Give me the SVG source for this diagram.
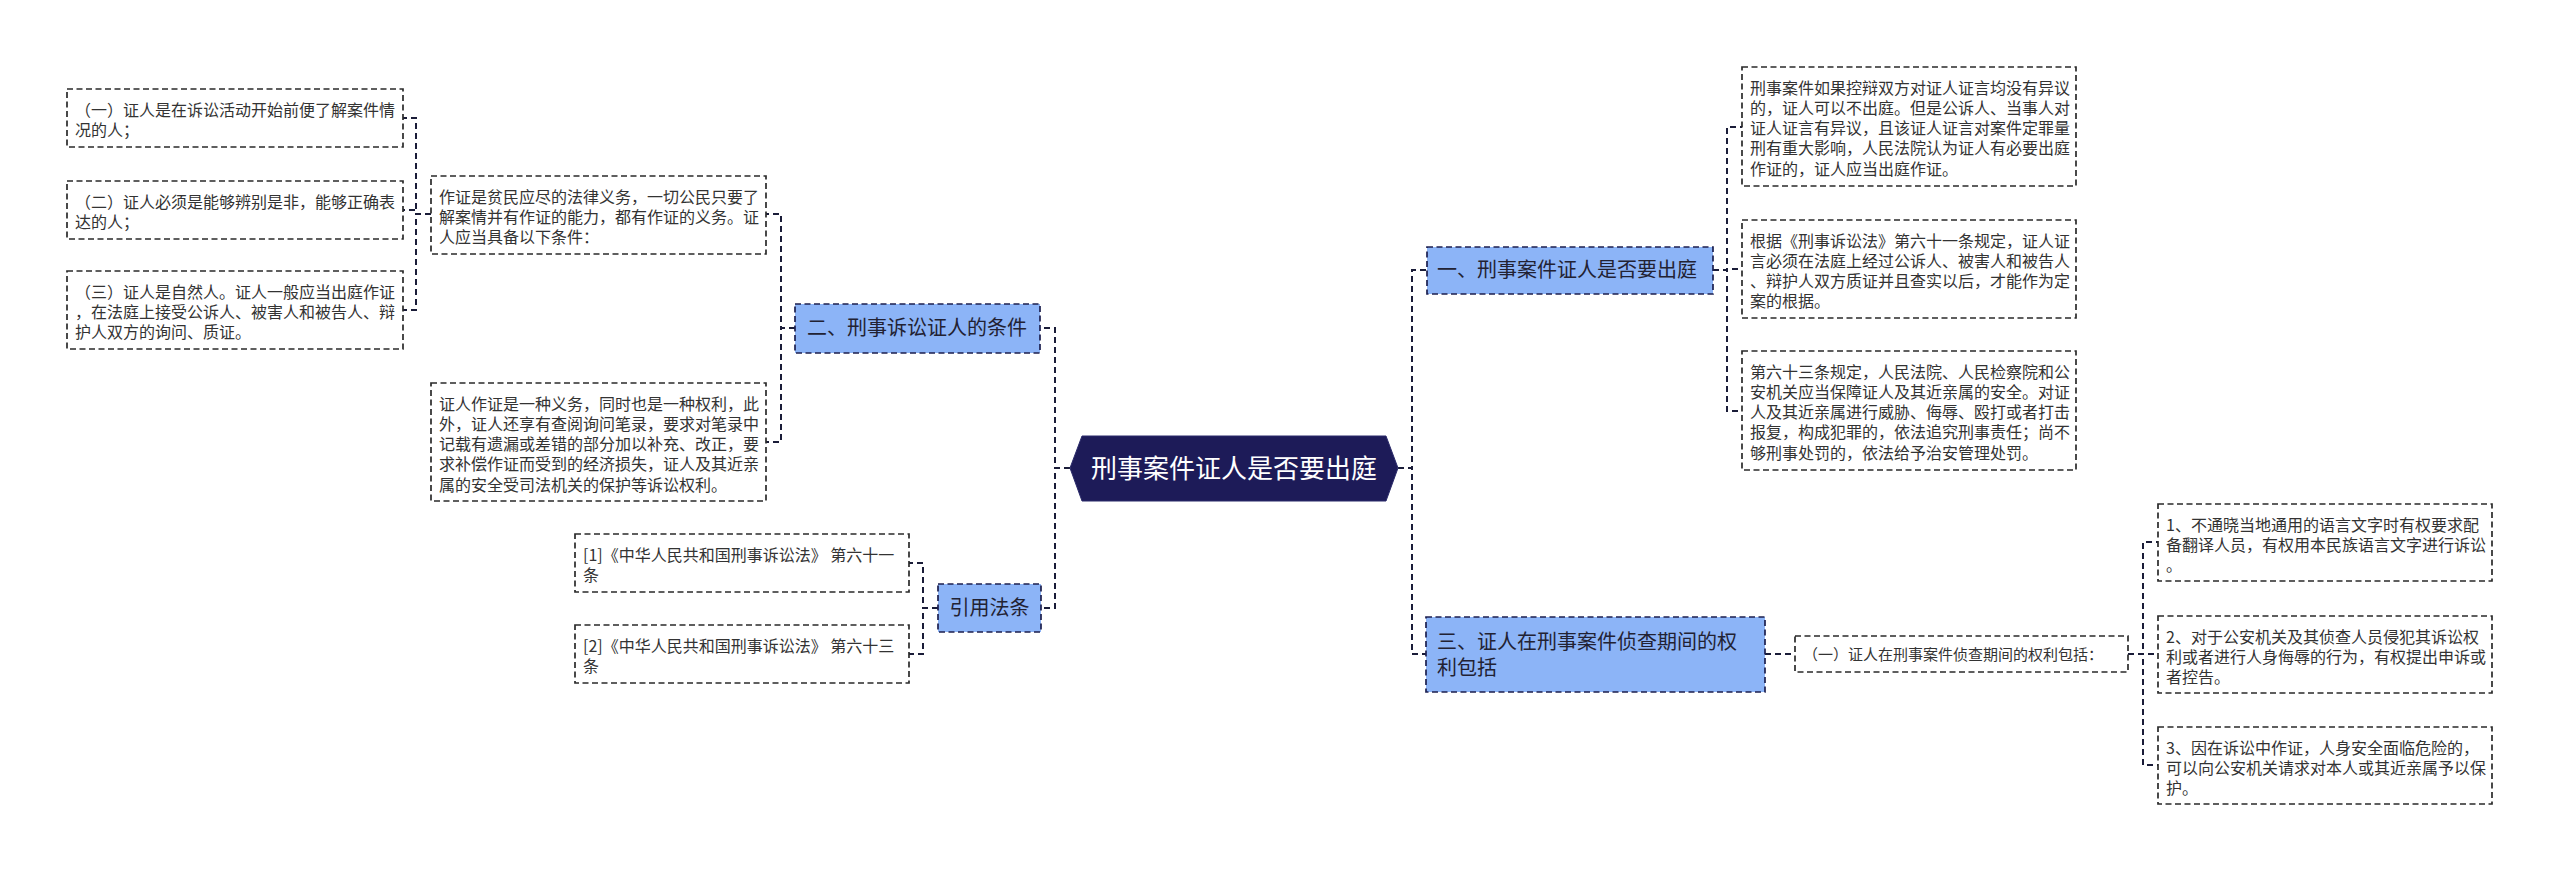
<svg xmlns="http://www.w3.org/2000/svg" width="2560" height="872" viewBox="0 0 2560 872">
<style>
.box{fill:#ffffff;stroke:#2a2a2a;stroke-width:1.7;stroke-dasharray:6,3.5}
.blue{fill:#8cb4f7;stroke:#1c1f4f;stroke-width:1.7;stroke-dasharray:6,3.5}
.t{font-family:"Noto Sans CJK SC","Liberation Sans",sans-serif;font-size:16px;fill:#333333}
.ts{font-family:"Noto Sans CJK SC","Liberation Sans",sans-serif;font-size:15px;fill:#333333}
.tb{font-family:"Noto Sans CJK SC","Liberation Sans",sans-serif;font-size:20px;fill:#222233}
.th{font-family:"Noto Sans CJK SC","Liberation Sans",sans-serif;font-size:26px;fill:#ffffff}
.c{fill:none;stroke:#1a1c38;stroke-width:2;stroke-dasharray:6,4}
</style>
<rect width="2560" height="872" fill="#ffffff"/>
<g id="connectors">
<path class="c" d="M1070,468 H1055 V328 H1040"/>
<path class="c" d="M1070,468 H1055 V608 H1041"/>
<path class="c" d="M795,328 H781 V214 H766"/>
<path class="c" d="M795,328 H781 V442 H766"/>
<path class="c" d="M431,214 H416 V118 H403"/>
<path class="c" d="M431,214 H416 V210 H403"/>
<path class="c" d="M431,214 H416 V310 H403"/>
<path class="c" d="M938,608 H923 V563 H909"/>
<path class="c" d="M938,608 H923 V654 H909"/>
<path class="c" d="M1398,468 H1412 V270 H1427"/>
<path class="c" d="M1398,468 H1412 V654 H1426"/>
<path class="c" d="M1713,270 H1727 V127 H1742"/>
<path class="c" d="M1713,270 H1727 V269 H1742"/>
<path class="c" d="M1713,270 H1727 V411 H1742"/>
<path class="c" d="M1765,654 H1795"/>
<path class="c" d="M2128,654 H2143 V542 H2158"/>
<path class="c" d="M2128,654 H2143 V654 H2158"/>
<path class="c" d="M2128,654 H2143 V765 H2158"/>
</g>
<g id="root">
<polygon points="1070,468 1082,436 1386,436 1398,468 1386,501 1082,501" fill="#1d1b58" stroke="#2a2a6a" stroke-width="1"/>
<text class="th" x="1234" y="478" text-anchor="middle">刑事案件证人是否要出庭</text>
</g>
<g id="n-er">
<rect class="blue" x="795" y="304" width="245" height="49"/>
<text class="tb" x="807" y="335">二、刑事诉讼证人的条件</text>
</g>
<g id="n-er-p1">
<rect class="box" x="431" y="176" width="335" height="78"/>
<text class="t"><tspan x="439" y="202.5">作证是贫民应尽的法律义务，一切公民只要了</tspan><tspan x="439" y="222.8">解案情并有作证的能力，都有作证的义务。证</tspan><tspan x="439" y="243.1">人应当具备以下条件：</tspan></text>
</g>
<g id="n-er-p2">
<rect class="box" x="431" y="383" width="335" height="118"/>
<text class="t"><tspan x="439" y="409.5">证人作证是一种义务，同时也是一种权利，此</tspan><tspan x="439" y="429.8">外，证人还享有查阅询问笔录，要求对笔录中</tspan><tspan x="439" y="450.1">记载有遗漏或差错的部分加以补充、改正，要</tspan><tspan x="439" y="470.4">求补偿作证而受到的经济损失，证人及其近亲</tspan><tspan x="439" y="490.7">属的安全受司法机关的保护等诉讼权利。</tspan></text>
</g>
<g id="n-c1">
<rect class="box" x="67" y="89" width="336" height="58"/>
<text class="t"><tspan x="75" y="115.5">（一）证人是在诉讼活动开始前便了解案件情</tspan><tspan x="75" y="135.8">况的人；</tspan></text>
</g>
<g id="n-c2">
<rect class="box" x="67" y="181" width="336" height="58"/>
<text class="t"><tspan x="75" y="207.5">（二）证人必须是能够辨别是非，能够正确表</tspan><tspan x="75" y="227.8">达的人；</tspan></text>
</g>
<g id="n-c3">
<rect class="box" x="67" y="271" width="336" height="78"/>
<text class="t"><tspan x="75" y="297.5">（三）证人是自然人。证人一般应当出庭作证</tspan><tspan x="75" y="317.8">，在法庭上接受公诉人、被害人和被告人、辩</tspan><tspan x="75" y="338.1">护人双方的询问、质证。</tspan></text>
</g>
<g id="n-law">
<rect class="blue" x="938" y="584" width="103" height="48"/>
<text class="tb" x="989.5" y="615" text-anchor="middle">引用法条</text>
</g>
<g id="n-law1">
<rect class="box" x="575" y="534" width="334" height="58"/>
<text class="t"><tspan x="583" y="560.5">[1]《中华人民共和国刑事诉讼法》 第六十一</tspan><tspan x="583" y="580.8">条</tspan></text>
</g>
<g id="n-law2">
<rect class="box" x="575" y="625" width="334" height="58"/>
<text class="t"><tspan x="583" y="651.5">[2]《中华人民共和国刑事诉讼法》 第六十三</tspan><tspan x="583" y="671.8">条</tspan></text>
</g>
<g id="n-yi">
<rect class="blue" x="1427" y="247" width="286" height="47"/>
<text class="tb" x="1437" y="277">一、刑事案件证人是否要出庭</text>
</g>
<g id="n-yi-a">
<rect class="box" x="1742" y="67" width="334" height="119"/>
<text class="t"><tspan x="1750" y="93.5">刑事案件如果控辩双方对证人证言均没有异议</tspan><tspan x="1750" y="113.8">的，证人可以不出庭。但是公诉人、当事人对</tspan><tspan x="1750" y="134.1">证人证言有异议，且该证人证言对案件定罪量</tspan><tspan x="1750" y="154.4">刑有重大影响，人民法院认为证人有必要出庭</tspan><tspan x="1750" y="174.7">作证的，证人应当出庭作证。</tspan></text>
</g>
<g id="n-yi-b">
<rect class="box" x="1742" y="220" width="334" height="98"/>
<text class="t"><tspan x="1750" y="246.5">根据《刑事诉讼法》第六十一条规定，证人证</tspan><tspan x="1750" y="266.8">言必须在法庭上经过公诉人、被害人和被告人</tspan><tspan x="1750" y="287.1">、辩护人双方质证并且查实以后，才能作为定</tspan><tspan x="1750" y="307.4">案的根据。</tspan></text>
</g>
<g id="n-yi-c">
<rect class="box" x="1742" y="351" width="334" height="119"/>
<text class="t"><tspan x="1750" y="377.5">第六十三条规定，人民法院、人民检察院和公</tspan><tspan x="1750" y="397.8">安机关应当保障证人及其近亲属的安全。对证</tspan><tspan x="1750" y="418.1">人及其近亲属进行威胁、侮辱、殴打或者打击</tspan><tspan x="1750" y="438.4">报复，构成犯罪的，依法追究刑事责任；尚不</tspan><tspan x="1750" y="458.7">够刑事处罚的，依法给予治安管理处罚。</tspan></text>
</g>
<g id="n-san">
<rect class="blue" x="1426" y="617" width="339" height="75"/>
<text class="tb"><tspan x="1437" y="649">三、证人在刑事案件侦查期间的权</tspan><tspan x="1437" y="675">利包括</tspan></text>
</g>
<g id="n-san-1">
<rect class="box" x="1795" y="636" width="333" height="36"/>
<text class="ts" x="1803" y="660">（一）证人在刑事案件侦查期间的权利包括：</text>
</g>
<g id="n-r1">
<rect class="box" x="2158" y="504" width="334" height="77"/>
<text class="t"><tspan x="2166" y="530.5">1、不通晓当地通用的语言文字时有权要求配</tspan><tspan x="2166" y="550.8">备翻译人员，有权用本民族语言文字进行诉讼</tspan><tspan x="2166" y="571.1">。</tspan></text>
</g>
<g id="n-r2">
<rect class="box" x="2158" y="616" width="334" height="77"/>
<text class="t"><tspan x="2166" y="642.5">2、对于公安机关及其侦查人员侵犯其诉讼权</tspan><tspan x="2166" y="662.8">利或者进行人身侮辱的行为，有权提出申诉或</tspan><tspan x="2166" y="683.1">者控告。</tspan></text>
</g>
<g id="n-r3">
<rect class="box" x="2158" y="727" width="334" height="77"/>
<text class="t"><tspan x="2166" y="753.5">3、因在诉讼中作证，人身安全面临危险的，</tspan><tspan x="2166" y="773.8">可以向公安机关请求对本人或其近亲属予以保</tspan><tspan x="2166" y="794.1">护。</tspan></text>
</g>
</svg>
